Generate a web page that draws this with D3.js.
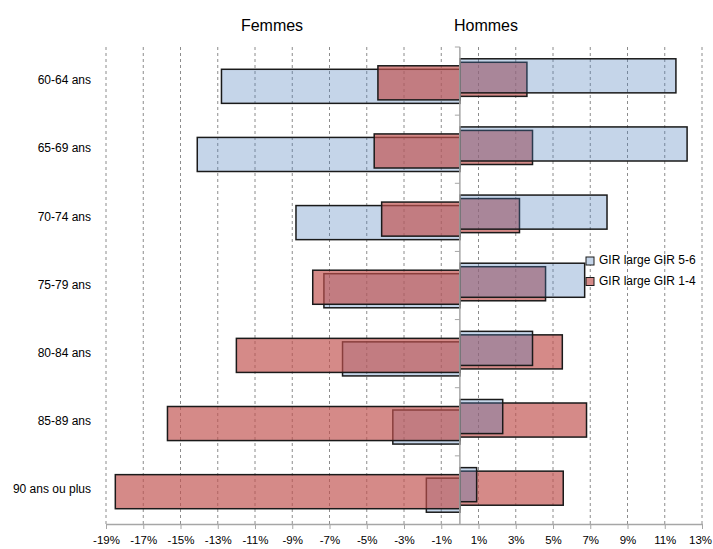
<!DOCTYPE html>
<html>
<head>
<meta charset="utf-8">
<script src="https://cdn.jsdelivr.net/npm/d3@7"></script>
<style>
  body { margin: 0; background: #fff; }
  text { font-family: "Liberation Sans", Arial, sans-serif; fill: #000; }
</style>
</head>
<body>
<div id="chart"></div>
<script>
const categories = ["60-64 ans", "65-69 ans", "70-74 ans", "75-79 ans", "80-84 ans", "85-89 ans", "90 ans ou plus"];
// values in % (femmes negative, hommes positive)
const femmesGir56 = [-12.8, -14.1, -8.8, -7.3, -6.3, -3.6, -1.8];
const femmesGir14 = [-4.4, -4.6, -4.2, -7.9, -12.0, -15.7, -18.5];
const hommesGir56 = [11.6, 12.2, 7.9, 6.7, 3.9, 2.3, 0.9];
const hommesGir14 = [3.6, 3.9, 3.2, 4.6, 5.5, 6.8, 5.55];
const xTicks = [-19, -17, -15, -13, -11, -9, -7, -5, -3, -1, 1, 3, 5, 7, 9, 11, 13];
const legendLabels = ["GIR large GIR 5-6", "GIR large GIR 1-4"];

const width = 713, height = 549;
const blue = "#4F81BD", red = "#C0504D";

const svg = d3.select("#chart").append("svg")
  .attr("width", width)
  .attr("height", height);

const x = d3.scaleLinear().domain([-19, 13]).range([106, 702]);
const y = d3.scaleBand().domain(categories).range([47, 524]);
const barH = y.bandwidth() / 2;

// small offset of each series inside a category (Excel overlap)
const offset = d3.scalePoint()
  .domain(["h56", "h14", "f14", "f56"])
  .range([-5.25, 5.25]);

// grid
svg.append("g")
  .selectAll("line")
  .data(xTicks)
  .enter()
  .append("line")
  .attr("x1", d => x(d)).attr("x2", d => x(d))
  .attr("y1", 47).attr("y2", 524)
  .attr("stroke", "#8c8c8c")
  .attr("stroke-dasharray", "3,3");

// bars, drawn in this order so red sits over blue on the left and blue over red on the right
const series = [
  { key: "f56", values: femmesGir56, color: blue, op: 0.33 },
  { key: "f14", values: femmesGir14, color: red, op: 0.67 },
  { key: "h14", values: hommesGir14, color: red, op: 0.67 },
  { key: "h56", values: hommesGir56, color: blue, op: 0.33 }
];

series.forEach(s => {
  svg.append("g")
    .selectAll("rect")
    .data(s.values)
    .enter()
    .append("rect")
    .attr("x", d => Math.min(x(0), x(d)))
    .attr("width", d => Math.abs(x(d) - x(0)))
    .attr("y", (d, i) => y(categories[i]) + y.bandwidth() / 2 + offset(s.key) - barH / 2)
    .attr("height", barH)
    .attr("fill", s.color)
    .attr("fill-opacity", s.op)
    .attr("stroke", "#1a1a1a")
    .attr("stroke-width", 1.5);
});

// bottom axis
const xAxis = svg.append("g")
  .attr("transform", "translate(0,524)")
  .call(d3.axisBottom(x).tickValues(xTicks).tickFormat(d => d + "%").tickSize(5).tickSizeOuter(0));
xAxis.select(".domain").attr("stroke", "#a6a6a6").attr("stroke-width", 1.5);
xAxis.selectAll(".tick line").attr("stroke", "#a6a6a6");
xAxis.selectAll("text")
  .attr("y", 12)
  .attr("dx", d => d === 13 ? -2 : 0)
  .style("font-size", "11.5px")
  .style("font-family", "'Liberation Sans', Arial, sans-serif")
  .attr("fill", "#000");

// vertical axis at zero
const zero = svg.append("g");
zero.append("line")
  .attr("x1", x(0)).attr("x2", x(0))
  .attr("y1", 47).attr("y2", 524)
  .attr("stroke", "#a6a6a6")
  .attr("stroke-width", 1.5);
zero.selectAll("line.tick")
  .data(categories)
  .enter()
  .append("line")
  .attr("class", "tick")
  .attr("x1", x(0) - 5).attr("x2", x(0))
  .attr("y1", d => y(d)).attr("y2", d => y(d))
  .attr("stroke", "#a6a6a6");

// category labels
svg.append("g")
  .selectAll("text")
  .data(categories)
  .enter()
  .append("text")
  .attr("x", 91)
  .attr("y", d => y(d) + y.bandwidth() / 2)
  .attr("text-anchor", "end")
  .attr("dominant-baseline", "middle")
  .style("font-size", "12px")
  .text(d => d);

// titles
svg.append("text")
  .attr("x", 272).attr("y", 27)
  .attr("text-anchor", "middle")
  .attr("dominant-baseline", "middle")
  .style("font-size", "16px")
  .text("Femmes");

svg.append("text")
  .attr("x", 486).attr("y", 27)
  .attr("text-anchor", "middle")
  .attr("dominant-baseline", "middle")
  .style("font-size", "16px")
  .text("Hommes");

// legend
const legendColors = [blue, red];
const legendOp = [0.33, 0.67];
const legend = svg.append("g")
  .selectAll("g")
  .data(legendLabels)
  .enter()
  .append("g")
  .attr("transform", (d, i) => `translate(586,${261 + i * 20.5})`);

legend.append("rect")
  .attr("x", 0).attr("y", -4)
  .attr("width", 8).attr("height", 8)
  .attr("fill", "#fff")
  .attr("stroke", "none");
legend.append("rect")
  .attr("x", 0).attr("y", -4)
  .attr("width", 8).attr("height", 8)
  .attr("fill", (d, i) => legendColors[i])
  .attr("fill-opacity", (d, i) => legendOp[i])
  .attr("stroke", "#1a1a1a");

legend.append("text")
  .attr("x", 13)
  .attr("y", 0)
  .attr("dominant-baseline", "middle")
  .style("font-size", "12px")
  .text(d => d);
</script>
</body>
</html>
